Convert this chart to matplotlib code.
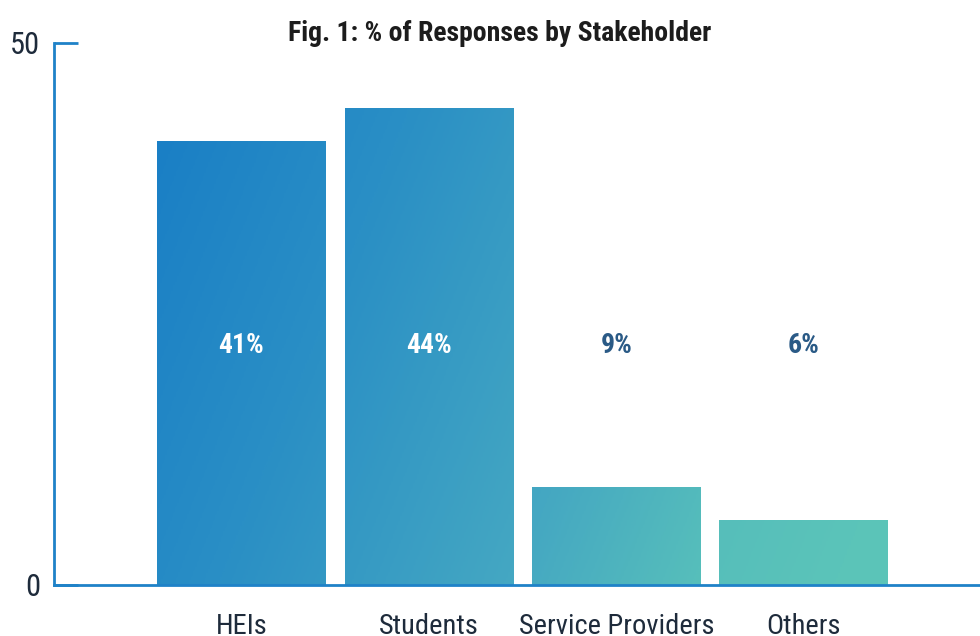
import numpy as np
import matplotlib
matplotlib.use("Agg")
import matplotlib.pyplot as plt
from matplotlib import font_manager
from matplotlib.colors import LinearSegmentedColormap

categories = ["HEIs", "Students", "Service Providers", "Others"]
values = [41, 44, 9, 6]
labels = ["41%", "44%", "9%", "6%"]
label_colors = ["white", "white", "#2a5a86", "#2a5a86"]

names = {f.name for f in font_manager.fontManager.ttflist}
fam = [f for f in ["Liberation Sans Narrow", "Roboto Condensed", "Open Sans", "DejaVu Sans"] if f in names]
plt.rcParams['font.family'] = fam + ['DejaVu Sans']

fig = plt.figure(figsize=(9.8, 6.36), dpi=100)
ax = fig.add_axes([54/980, 51/636, 1 - 54/980, 542/636])
ax.set_xlim(-1, 3.94)
ax.set_ylim(0, 50)

x = np.arange(len(categories))
bars = ax.bar(x, values, width=0.9, color="none", edgecolor="none", zorder=2)

cmap = LinearSegmentedColormap.from_list(
    "g", [(0.0, "#1a7fc6"), (0.2, "#2a8fc5"), (0.45, "#45a8c2"),
          (0.6, "#56bebb"), (0.72, "#5bc4b9"), (1.0, "#5cc5b8")])
ny, nx = 300, 500
yy, xx = np.mgrid[0:ny, 0:nx]
# pixel coordinates of the axes area
px = xx / (nx - 1) * 926.0 + 54.0
py = yy / (ny - 1) * 542.0 + 43.0
t = 0.00084 * (px - 157) + 0.000336 * (py - 139)
t = np.clip(t, 0, 1)
for b in bars:
    im = ax.imshow(t, cmap=cmap, extent=[-1, 3.94, 0, 50], origin="upper",
                   aspect="auto", zorder=2, interpolation="bilinear", vmin=0, vmax=1)
    im.set_clip_path(b)

for xi, lab, c in zip(x, labels, label_colors):
    ax.text(xi, 22.1, lab, ha="center", va="center", fontsize=20, fontweight="bold",
            color=c, zorder=3)

for s in ["top", "right"]:
    ax.spines[s].set_visible(False)
for s in ["left", "bottom"]:
    ax.spines[s].set_color("#1f82c8")
    ax.spines[s].set_linewidth(2)
    ax.spines[s].set_zorder(4)

ax.set_yticks([0, 50])
ax.set_yticklabels(["0", "50"])
ax.tick_params(axis="y", direction="in", length=17, width=2, color="#1f82c8",
               labelsize=22, labelcolor="#1e2b3b", pad=10)
ax.set_xticks(x)
ax.set_xticklabels(categories)
ax.tick_params(axis="x", length=0, labelsize=20.5, labelcolor="#1e2b3b", pad=20)

fig.text(0.51, 0.948, "Fig. 1: % of Responses by Stakeholder", ha="center", va="center",
         fontsize=20, fontweight="bold", color="#1c1c1c")

fig.savefig("out.png", dpi=100)
